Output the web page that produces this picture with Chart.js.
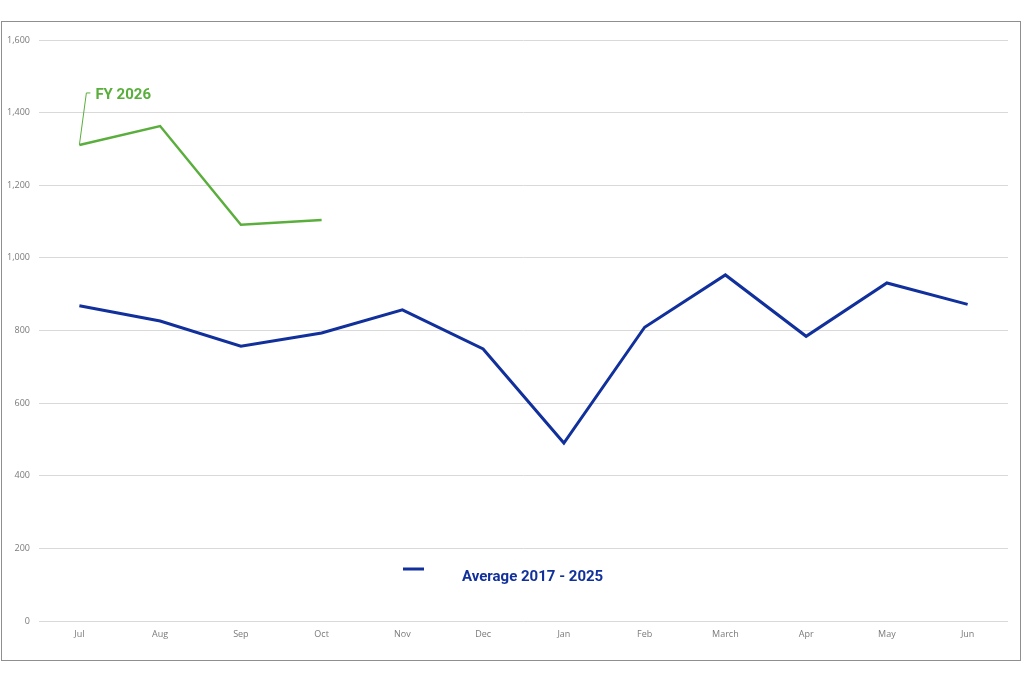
<!DOCTYPE html>
<html>
<head>
<meta charset="utf-8">
<script src="https://cdn.jsdelivr.net/npm/chart.js@4/dist/chart.umd.min.js"></script>
<style>
  html, body { margin: 0; padding: 0; background: #fff; }
  .wrap { position: relative; width: 1024px; height: 683px; }
  .frame { position: absolute; left: 1px; top: 21px; width: 1020px; height: 640px; border: 1px solid #8f8f8f; box-sizing: border-box; pointer-events: none; }
  canvas { position: absolute; left: 0; top: 0; }
</style>
</head>
<body>
<div class="wrap">
  <canvas id="chart" width="1024" height="683"></canvas>
  <div class="frame"></div>
</div>
<script>
const months = ['Jul', 'Aug', 'Sep', 'Oct', 'Nov', 'Dec', 'Jan', 'Feb', 'March', 'Apr', 'May', 'Jun'];
const fy2026 = [1311, 1363, 1091, 1104, null, null, null, null, null, null, null, null];
const average = [868, 826, 757, 793, 857, 749, 490, 809, 953, 784, 931, 872];
const yTicks = [0, 200, 400, 600, 800, 1000, 1200, 1400, 1600];

const blue = '#11309c';
const green = '#5aae3c';

// labels drawn by hand: the FY 2026 callout and the legend in the plot
const annotations = {
  id: 'annotations',
  afterDatasetsDraw(chart) {
    const c = chart.ctx;
    const x = chart.scales.x, y = chart.scales.y;
    c.save();

    // FY 2026 callout from first point
    const px = x.getPixelForValue(0);
    const py = y.getPixelForValue(fy2026[0]);
    c.strokeStyle = green;
    c.lineWidth = 1;
    c.beginPath();
    c.moveTo(px, py);
    c.lineTo(px + 7, py - 52);
    c.lineTo(px + 11, py - 52);
    c.stroke();
    c.fillStyle = green;
    c.font = 'bold 15px Roboto, "Liberation Sans", sans-serif';
    c.textBaseline = 'middle';
    c.fillText('FY 2026', px + 16, py - 50);

    // legend
    c.strokeStyle = blue;
    c.lineWidth = 3;
    c.beginPath();
    c.moveTo(403, 569);
    c.lineTo(424, 569);
    c.stroke();
    c.fillStyle = blue;
    c.font = 'bold 15px Roboto, "Liberation Sans", sans-serif';
    c.fillText('Average 2017 - 2025', 462, 577);
    c.restore();
  }
};

new Chart(document.getElementById('chart'), {
  type: 'line',
  data: {
    labels: months,
    datasets: [
      {
        label: 'FY 2026',
        data: fy2026,
        borderColor: green,
        borderWidth: 2.5,
        pointRadius: 0,
        tension: 0,
        spanGaps: false
      },
      {
        label: 'Average 2017 - 2025',
        data: average,
        borderColor: blue,
        borderWidth: 3,
        pointRadius: 0,
        tension: 0
      }
    ]
  },
  options: {
    responsive: false,
    animation: false,
    layout: { padding: { left: 0, top: 40, right: 16, bottom: 37 } },
    plugins: { legend: { display: false }, tooltip: { enabled: false } },
    scales: {
      x: {
        offset: true,
        grid: { display: false, drawTicks: false },
        border: { display: false },
        ticks: { color: '#7a7a7a', font: { family: '"Open Sans", sans-serif', size: 9 }, padding: 8, maxRotation: 0 },
        afterFit(axis) { axis.height = 25; }
      },
      y: {
        min: 0,
        max: 1600,
        afterBuildTicks(axis) { axis.ticks = yTicks.map(v => ({ value: v })); },
        grid: { color: '#d9d9d9', lineWidth: 1, drawTicks: false },
        border: { display: false },
        ticks: {
          color: '#7a7a7a',
          font: { family: '"Open Sans", sans-serif', size: 9 },
          padding: 9,
          callback: v => v.toLocaleString('en-US')
        },
        afterFit(axis) { axis.width = 39; }
      }
    }
  },
  plugins: [annotations]
});
</script>
</body>
</html>
